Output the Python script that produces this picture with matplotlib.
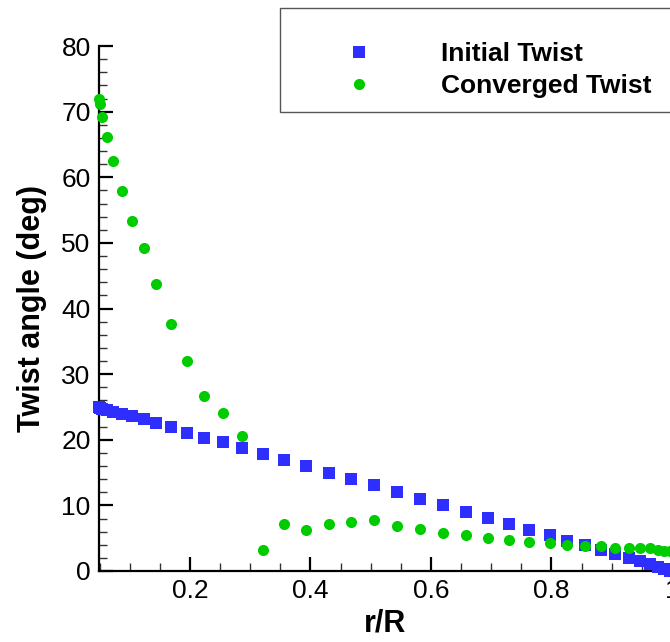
import numpy as np
import matplotlib
matplotlib.use("Agg")
import matplotlib.pyplot as plt
from matplotlib.ticker import MultipleLocator, FuncFormatter
from matplotlib.patches import Rectangle

plt.rcParams["font.family"] = ["Liberation Sans", "DejaVu Sans"]

# r/R stations (shared by both series)
r_R = [0.049, 0.051, 0.054, 0.062, 0.073, 0.087, 0.103, 0.123, 0.144, 0.168,
       0.195, 0.224, 0.254, 0.287, 0.321, 0.356, 0.392, 0.430, 0.467, 0.506,
       0.544, 0.582, 0.620, 0.658, 0.694, 0.730, 0.763, 0.797, 0.826, 0.855,
       0.882, 0.905, 0.928, 0.947, 0.963, 0.977, 0.987, 0.997]

initial_twist = [25.0, 24.9, 24.7, 24.5, 24.3, 24.0, 23.6, 23.1, 22.5, 21.9,
                 21.1, 20.3, 19.6, 18.7, 17.8, 16.9, 15.95, 15.0, 14.0, 13.05,
                 12.0, 10.9, 10.0, 8.94, 8.08, 7.1, 6.2, 5.44, 4.5, 3.9,
                 3.15, 2.6, 1.93, 1.47, 1.07, 0.66, 0.3, 0.0]

converged_twist = [72.0, 71.2, 69.2, 66.2, 62.5, 57.9, 53.4, 49.2, 43.8, 37.6,
                   31.95, 26.7, 24.1, 20.5, 3.25, 7.2, 6.2, 7.1, 7.4, 7.7,
                   6.9, 6.4, 5.8, 5.5, 5.0, 4.7, 4.47, 4.27, 3.96, 3.76,
                   3.76, 3.55, 3.5, 3.5, 3.45, 3.2, 3.1, 3.0]

W, H = 670, 642
fig = plt.figure(figsize=(W / 100, H / 100), dpi=100)
ax = fig.add_axes([99 / W, (H - 571) / H, (672 - 99) / W, (571 - 46) / H])

l1, = ax.plot(r_R, initial_twist, linestyle="none", marker="s", markersize=8,
              color="#2e2eff", markeredgewidth=0, clip_on=False, zorder=3,
              label="Initial Twist")
l2, = ax.plot(r_R, converged_twist, linestyle="none", marker="o", markersize=8,
              color="#00cc00", markeredgewidth=0, clip_on=False, zorder=4,
              label="Converged Twist")

ax.set_xlim(0.049, 1.0)
ax.set_ylim(0, 80)

ax.xaxis.set_major_locator(MultipleLocator(0.2))
ax.xaxis.set_minor_locator(MultipleLocator(0.05))
ax.yaxis.set_major_locator(MultipleLocator(10))
ax.yaxis.set_minor_locator(MultipleLocator(2))
ax.xaxis.set_major_formatter(FuncFormatter(lambda v, p: "%g" % round(v, 3)))

ax.tick_params(which="major", direction="in", length=10, width=1.6,
               labelsize=19, pad=6, color="black")
ax.tick_params(which="minor", direction="in", length=5.5, width=1.0,
               color="#333333")
ax.tick_params(top=False, right=False, which="both")

for side in ["top", "right"]:
    ax.spines[side].set_visible(False)
for side in ["left", "bottom"]:
    ax.spines[side].set_linewidth(1.6)

ax.set_xlabel("r/R", fontsize=22, fontweight="bold", labelpad=4)
ax.set_ylabel("Twist angle (deg)", fontsize=22, fontweight="bold", labelpad=10)

# legend box (Tecplot style)
fig.patches.append(Rectangle((280 / W, 1 - 112 / H), (680 - 280) / W, (112 - 8) / H,
                             transform=fig.transFigure, facecolor="white",
                             edgecolor="#555555", linewidth=1.0, zorder=5))
leg = fig.legend(handles=[l1, l2], loc="center left",
                 bbox_to_anchor=(306 / W, 1 - 70 / H),
                 frameon=False, borderpad=0, borderaxespad=0,
                 handlelength=3.98, handletextpad=1.15, labelspacing=0.3,
                 prop={"size": 19, "weight": "bold"})
leg.set_zorder(6)

fig.savefig("out.png", dpi=100)
